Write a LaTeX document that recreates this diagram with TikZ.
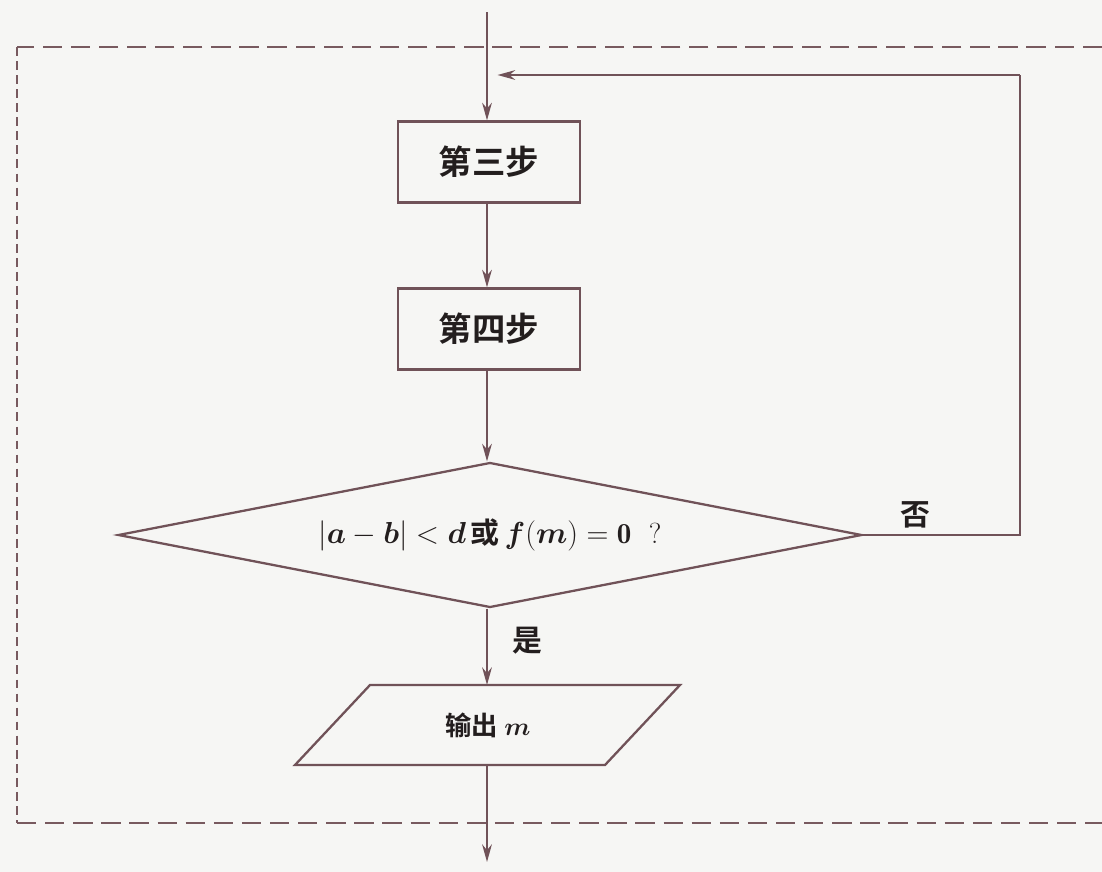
\documentclass[tikz,border=0pt]{standalone}
\usepackage{amsmath}
\usepackage{fontspec}
\newfontfamily\cjk{Noto Sans CJK SC}[BoldFont={Noto Sans CJK SC Bold}]
\usetikzlibrary{shapes.geometric,arrows.meta}
\definecolor{ln}{RGB}{112,82,88}
\definecolor{dl}{RGB}{120,90,95}
\definecolor{bg}{RGB}{246,246,244}
\definecolor{tx}{RGB}{35,30,30}
\tikzset{
  flow/.style={draw=ln, line width=1.3pt, -{Stealth[length=10pt,width=5.5pt]}},
  plain/.style={draw=ln, line width=1.3pt},
  stepbox/.style={draw=ln, line width=1.3pt, rectangle, minimum width=3.64cm, minimum height=1.62cm, inner sep=0pt, font=\cjk\bfseries\fontsize{19}{22}\selectfont, text=tx},
  cond/.style={draw=ln, line width=1.3pt, diamond, aspect=5.13, minimum width=14.88cm, minimum height=2.9cm, inner sep=0pt, font=\fontsize{16.5}{19}\selectfont, text=tx},
  lbl/.style={font=\cjk\bfseries\fontsize{17}{20}\selectfont, text=tx},
  frame/.style={draw=dl, line width=1.4pt}
}
\begin{document}
\begin{tikzpicture}[x=0.02cm,y=-0.02cm]
\fill[bg] (0,0) rectangle (1102,872);
\useasboundingbox (0,0) rectangle (1102,872);
% dashed frame
\draw[frame, dash pattern=on 11pt off 5pt] (1102,47) -- (17,47);
\draw[frame, dash pattern=on 5pt off 3pt] (17,47) -- (17,823);
\draw[frame, dash pattern=on 11pt off 5pt] (17,823) -- (1102,823);
% nodes
\coordinate (top) at (487,12);
\coordinate (join) at (487,75);
\node[stepbox] (s3) at (489,162) {第三步};
\node[stepbox] (s4) at (489,329) {第四步};
\node[cond] (d) at (490,535) {$|\boldsymbol{a}-\boldsymbol{b}|<\boldsymbol{d}$\,{\cjk\bfseries 或}\,$\boldsymbol{f}(\boldsymbol{m})=\mathbf{0}$\ \ ?};
\coordinate (rtop) at (1020,75);
\coordinate (ot) at (487,685);
\coordinate (ob) at (487,765);
\node[font=\cjk\bfseries\fontsize{15}{18}\selectfont, text=tx] (out) at (488,725) {输出 $\boldsymbol{m}$};
\draw[plain, line join=miter] (370,685) -- (680,685) -- (605,765) -- (295,765) -- cycle;
\coordinate (end) at (487,862);
% connectors
\draw[flow] (top) -- (s3.north -| top);
\draw[flow] (s3.south -| top) -- (s4.north -| top);
\draw[flow] (s4.south -| top) -- (d.north -| top);
\draw[plain] (d.east) -- (d.east -| rtop) -- (rtop);
\draw[flow] (rtop) -- ([xshift=6]join);
\draw[flow] (d.south -| ot) -- (ot);
\draw[flow] (ob) -- (end);
% labels
\node[lbl] (no) at (915,515) {否};
\node[lbl] (yes) at (527,641) {是};
\end{tikzpicture}
\end{document}
